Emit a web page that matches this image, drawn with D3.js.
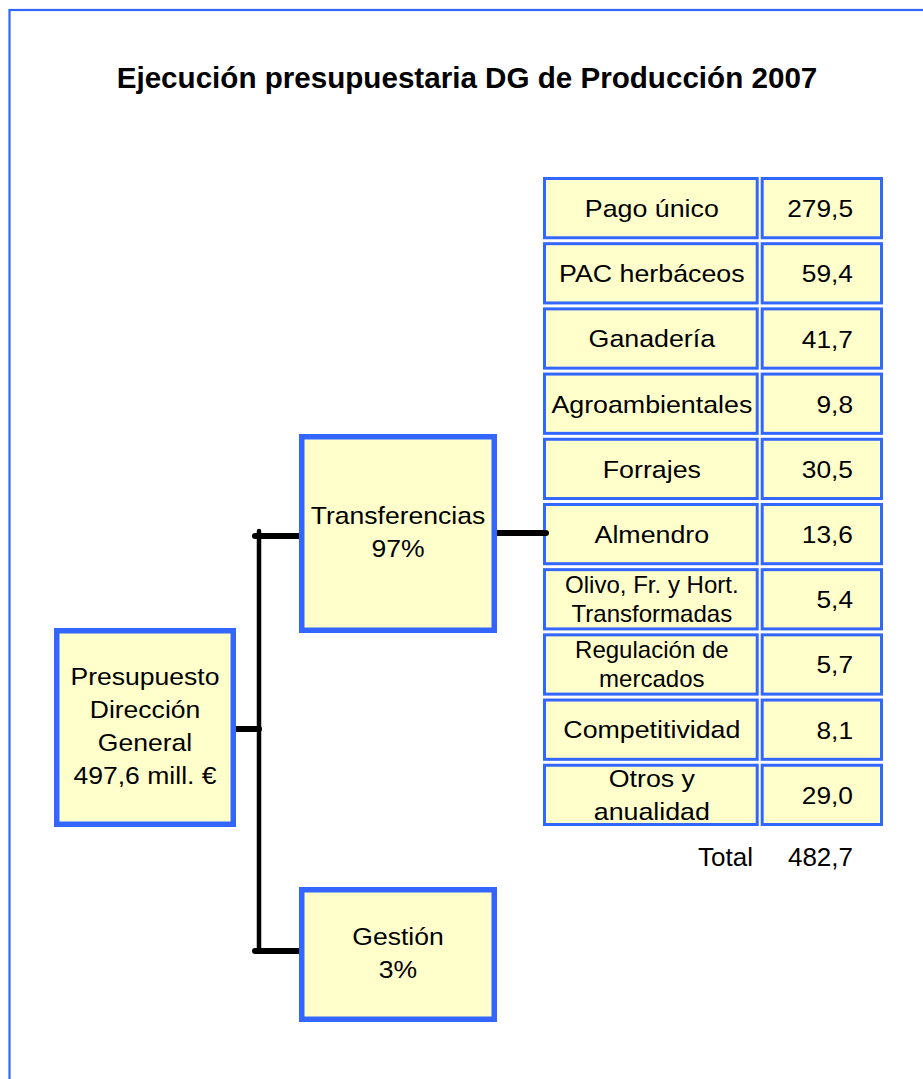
<!DOCTYPE html>
<html>
<head>
<meta charset="utf-8">
<script src="https://cdn.jsdelivr.net/npm/d3@7"></script>
<style>
  html, body { margin: 0; padding: 0; background: #fff; }
  svg { display: block; }
  text { font-family: "Liberation Sans", Arial, sans-serif; fill: #000; }
</style>
</head>
<body>
<div id="chart"></div>
<script>
// ---------- DATA ----------
const title = "Ejecución presupuestaria DG de Producción 2007";
const categories = [
  "Pago único", "PAC herbáceos", "Ganadería", "Agroambientales", "Forrajes",
  "Almendro", "Olivo, Fr. y Hort.\nTransformadas", "Regulación de\nmercados",
  "Competitividad", "Otros y\nanualidad"
];
const values = [279.5, 59.4, 41.7, 9.8, 30.5, 13.6, 5.4, 5.7, 8.1, 29.0];
const totalLabel = "Total";
const totalValue = 482.7;
const rootLabel = ["Presupuesto", "Dirección", "General"];
const rootValue = 497.6;
const branchNames = ["Transferencias", "Gestión"];
const branchShares = [97, 3];

// ---------- STYLE / LAYOUT ----------
const W = 923, H = 1079;
const BLUE = "#3366FF", FILL = "#FFFFCC";
const smallLabels = new Set([categories[6], categories[7]]);
const es = d3.formatLocale({decimal: ",", thousands: ".", grouping: [3], currency: ["", " €"]});
const f1 = es.format(".1f");

const svg = d3.select("#chart").append("svg").attr("width", W).attr("height", H);

// frame
svg.append("rect").attr("x", 9.5).attr("y", 10).attr("width", 1000).attr("height", 1200)
  .attr("fill", "none").attr("stroke", BLUE).attr("stroke-width", 2.2);

// title
svg.append("text").attr("x", 467).attr("y", 88).attr("text-anchor", "middle")
  .style("font-size", "29.6px").style("font-weight", "bold").text(title);

// helper for multi-line centred text
function mlText(g, lines, cx, cy, size, lh, sx, capOff) {
  const n = lines.length;
  lines.forEach((ln, i) => {
    const y = cy + capOff + (i - (n - 1) / 2) * lh;
    g.append("text").attr("transform", `translate(${cx},${y}) scale(${sx},1)`)
      .attr("text-anchor", "middle").style("font-size", size + "px").text(ln);
  });
}

// ---------- TABLE ----------
const y = d3.scaleBand().domain(categories).range([177, 826]).paddingInner(0.045);
const col = d3.scaleOrdinal().domain(["label", "value"]).range([[543, 758.7], [760.7, 883]]);
const sw = 3;

const rows = svg.append("g").selectAll("g").data(categories).join("g");
["label", "value"].forEach(c => {
  rows.append("rect")
    .attr("x", col(c)[0] + sw / 2)
    .attr("y", d => y(d) + sw / 2)
    .attr("width", col(c)[1] - col(c)[0] - sw)
    .attr("height", y.bandwidth() - sw)
    .attr("fill", FILL).attr("stroke", BLUE).attr("stroke-width", sw);
});
rows.each(function(d, i) {
  const g = d3.select(this);
  const cy = y(d) + y.bandwidth() / 2;
  const lines = d.split("\n");
  const small = smallLabels.has(d);
  const cx = (col("label")[0] + col("label")[1]) / 2 + 1;
  if (small) mlText(g, lines, cx, cy, 23, 29.3, 1.045, 8.3);
  else mlText(g, lines, cx, cy, 24.8, 33, 1.08, 8.8);
  g.append("text").attr("transform", `translate(853,${cy + 9}) scale(1.06,1)`)
    .attr("text-anchor", "end").style("font-size", "24.8px").text(f1(values[i]));
});

svg.append("text").attr("x", 753).attr("y", 866).attr("text-anchor", "end")
  .style("font-size", "26px").text(totalLabel);
svg.append("text").attr("x", 853).attr("y", 866).attr("text-anchor", "end")
  .style("font-size", "26px").text(f1(totalValue));

// ---------- CONNECTORS ----------
const lines = svg.append("g").attr("stroke", "#000").attr("stroke-linecap", "round");
lines.append("line").attr("x1", 259).attr("x2", 259).attr("y1", 531).attr("y2", 951).attr("stroke-width", 4.5);
lines.append("line").attr("x1", 255).attr("x2", 300).attr("y1", 536).attr("y2", 536).attr("stroke-width", 6);
lines.append("line").attr("x1", 233).attr("x2", 259).attr("y1", 729).attr("y2", 729).attr("stroke-width", 6);
lines.append("line").attr("x1", 255).attr("x2", 300).attr("y1", 951).attr("y2", 951).attr("stroke-width", 6);
lines.append("line").attr("x1", 494).attr("x2", 546).attr("y1", 533).attr("y2", 533).attr("stroke-width", 6);

// ---------- BOXES ----------
const bw = 5.5;
const boxes = [
  {x0: 54, x1: 236, y0: 628, y1: 827, lines: [...rootLabel, f1(rootValue) + " mill. €"]},
  {x0: 299, x1: 497, y0: 434, y1: 633, lines: [branchNames[0], branchShares[0] + "%"]},
  {x0: 299, x1: 497, y0: 887, y1: 1022, lines: [branchNames[1], branchShares[1] + "%"]}
];
const bg = svg.append("g");
boxes.forEach(b => {
  bg.append("rect").attr("x", b.x0 + bw / 2).attr("y", b.y0 + bw / 2)
    .attr("width", b.x1 - b.x0 - bw).attr("height", b.y1 - b.y0 - bw)
    .attr("fill", FILL).attr("stroke", BLUE).attr("stroke-width", bw);
  mlText(bg, b.lines, (b.x0 + b.x1) / 2, (b.y0 + b.y1) / 2, 24.8, 33, 1.07, 7);
});
</script>
</body>
</html>
